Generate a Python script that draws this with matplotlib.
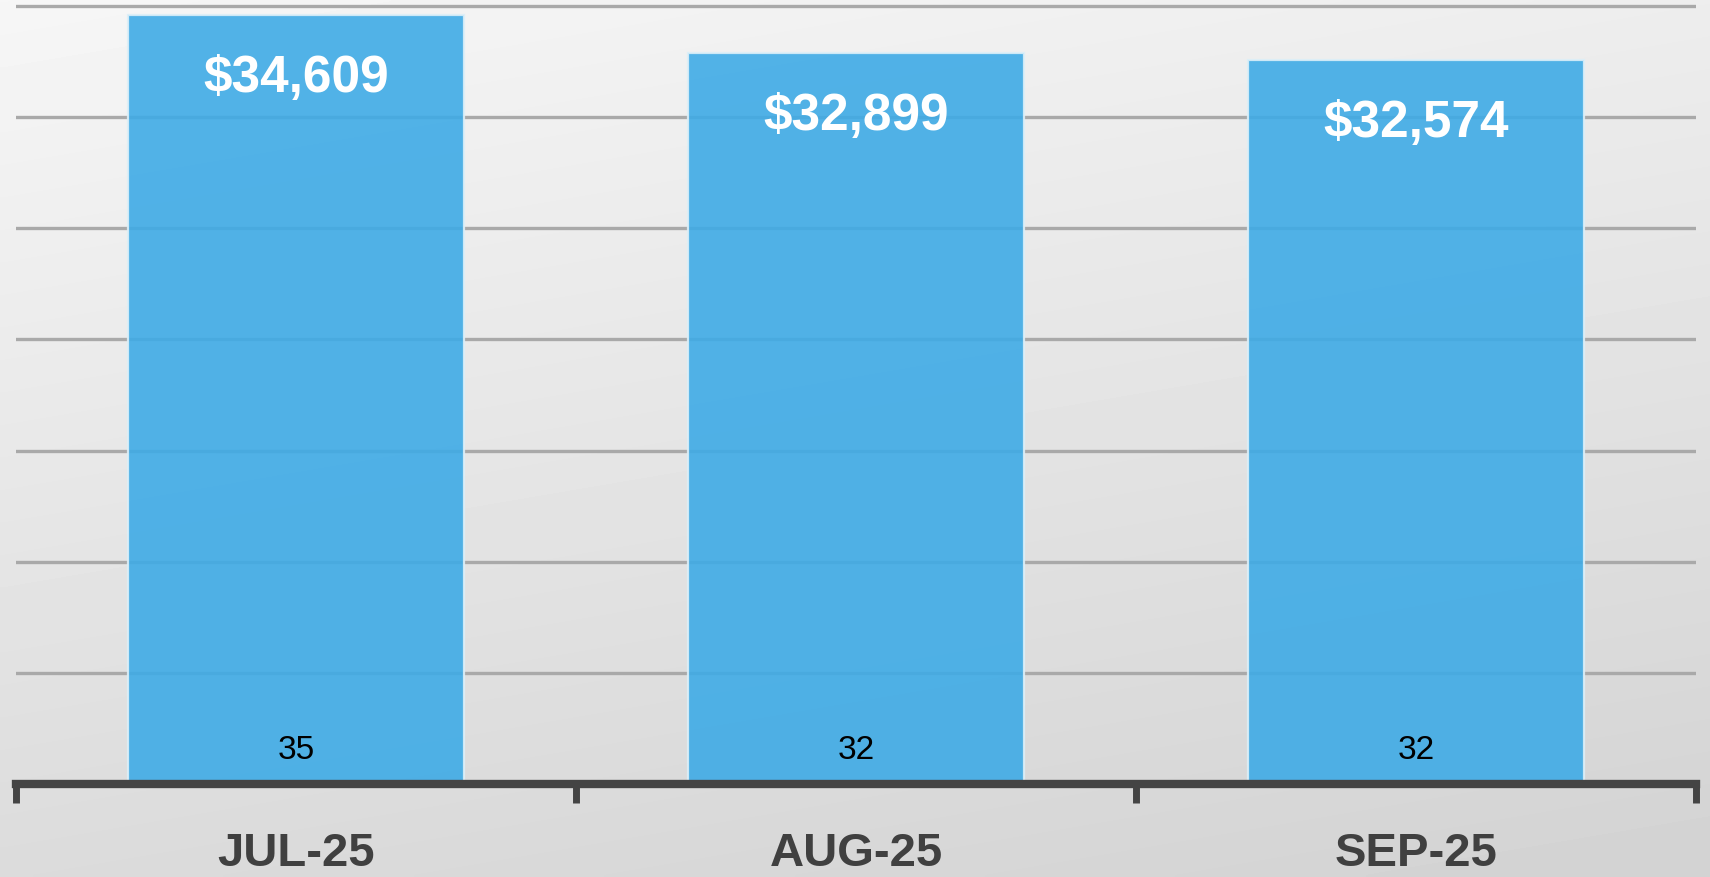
import numpy as np
import matplotlib.pyplot as plt

months = ["JUL-25", "AUG-25", "SEP-25"]
revenue = [34609, 32899, 32574]
counts = [35, 32, 32]

BAR_COLOR = "#3fabe6"
AXIS_COLOR = "#444444"
GRID_COLOR = "#a9a9a9"

plt.rcParams["font.family"] = ["Liberation Sans", "DejaVu Sans"]

fig = plt.figure(figsize=(17.1, 8.78), dpi=100)

# soft diagonal grey backdrop behind everything
bg = fig.add_axes([0, 0, 1, 1], zorder=0)
yy, xx = np.mgrid[0:1:200j, 0:1:400j]
shade = 0.965 - 0.14 * (0.75 * yy + 0.25 * xx)
bg.imshow(shade, cmap="gray", vmin=0, vmax=1, aspect="auto",
          extent=[0, 1, 0, 1], origin="upper", interpolation="bilinear")
bg.axis("off")

ax = fig.add_axes([16 / 1710, 93 / 878, 1680 / 1710, 785 / 878], zorder=1)
ax.patch.set_alpha(0)

x = np.arange(len(months))
ax.set_xlim(-0.5, len(months) - 0.5)
ax.set_ylim(0, 35313)

for v in range(5000, 35001, 5000):
    ax.axhline(v, color=GRID_COLOR, lw=2.4, zorder=1)

bars = ax.bar(x, revenue, width=0.6, color=BAR_COLOR, alpha=0.9,
              edgecolor="#dcefF8", linewidth=1.6, zorder=2)

for xi, val, n in zip(x, revenue, counts):
    ax.annotate(f"${val:,}", (xi, val), xytext=(0, -45), textcoords="offset points",
                ha="center", va="center", color="white", fontsize=37,
                fontweight="bold", zorder=4)
    ax.annotate(str(n), (xi, 0), xytext=(0, 25), textcoords="offset points",
                ha="center", va="center", color="black", fontsize=24, zorder=4)

# x axis: thick dark baseline with ticks at the category boundaries
for side in ("left", "right", "top"):
    ax.spines[side].set_visible(False)
ax.spines["bottom"].set_color(AXIS_COLOR)
ax.spines["bottom"].set_linewidth(6)
ax.spines["bottom"].set_zorder(5)
ax.set_yticks([])
ax.set_xticks(np.arange(len(months) + 1) - 0.5)
ax.set_xticklabels([])
ax.set_xticks(x, minor=True)
ax.set_xticklabels(months, minor=True)
ax.tick_params(axis="x", which="major", direction="out", length=14, width=5,
               color=AXIS_COLOR)
ax.tick_params(axis="x", which="minor", length=0, pad=34, labelsize=34,
               labelcolor="#404040")
for lab in ax.get_xticklabels(minor=True):
    lab.set_fontweight("bold")

fig.savefig("out.png", dpi=100)
